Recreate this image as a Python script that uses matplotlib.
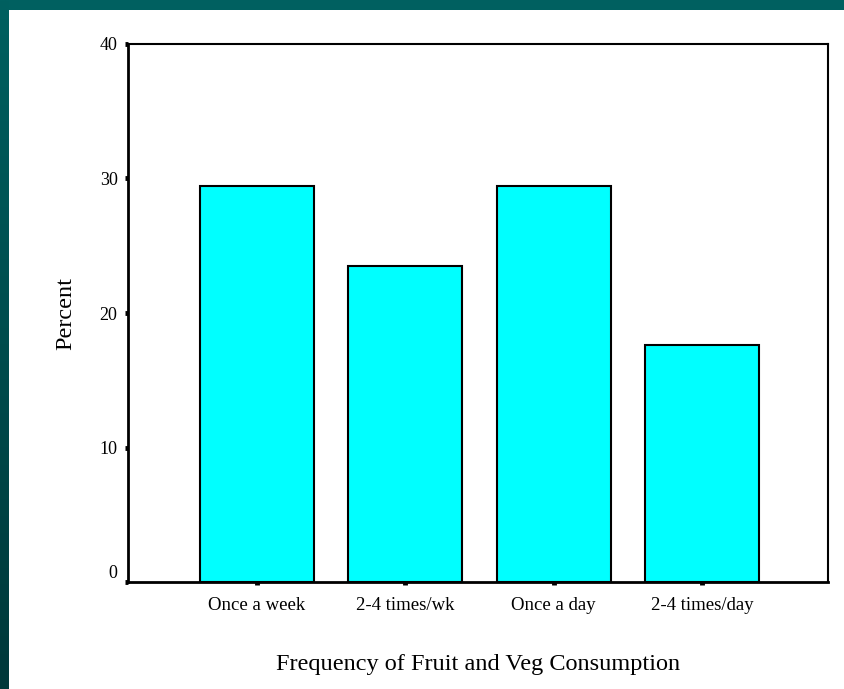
import numpy as np
from matplotlib import pyplot as plt
from matplotlib.colors import LinearSegmentedColormap

categories = ["Once a week", "2-4 times/wk", "Once a day", "2-4 times/day"]
percent = [29.41, 23.53, 29.41, 17.65]
y_ticks = [0, 10, 20, 30, 40]

plt.rcParams['font.family'] = ['Liberation Serif', 'DejaVu Serif']

fig = plt.figure(figsize=(8.45, 6.89), dpi=100)
fig.patch.set_facecolor("white")

# teal slide frame: strip on top, gradient down the left edge
top = fig.add_axes([0, 1 - 10 / 689, 1, 10 / 689])
top.set_axis_off()
top.add_patch(plt.Rectangle((0, 0), 1, 1, color="#006060", transform=top.transAxes))

side = fig.add_axes([0, 0, 9 / 845, 1])
grad = np.linspace(0, 1, 256).reshape(-1, 1)
cmap = LinearSegmentedColormap.from_list("frame", ["#006060", "#00383a"])
side.imshow(grad, aspect="auto", cmap=cmap, extent=[0, 1, 0, 1], origin="upper")
side.set_axis_off()

ax = fig.add_axes([128 / 845, 1 - 582 / 689, 700 / 845, 538 / 689])
x = np.arange(len(categories))
ax.bar(x, percent, width=0.77, color="#00ffff", edgecolor="black", linewidth=1.5)

ax.set_xlim(-0.87, 3.85)
ax.set_ylim(0, 40)
ax.set_xticks(x)
ax.set_xticklabels(categories, fontsize=13.5)
ax.set_yticks(y_ticks)
ax.set_yticklabels([str(v) for v in y_ticks], fontsize=13)
ax.tick_params(axis="both", direction="out", length=2.5, width=3.5, color="black")
ax.tick_params(axis="x", pad=8)
ax.tick_params(axis="y", pad=5)
ax.get_yticklabels()[0].set_verticalalignment("bottom")

for s in ["top", "right"]:
    ax.spines[s].set_linewidth(1.5)
for s in ["left", "bottom"]:
    ax.spines[s].set_linewidth(2)

ax.set_xlabel("Frequency of Fruit and Veg Consumption", fontsize=17.5)
ax.set_ylabel("Percent", fontsize=17.5)
ax.xaxis.set_label_coords(0.5, -0.134)
ax.yaxis.set_label_coords(-0.074, 0.5)

fig.savefig("out.png", dpi=100)
